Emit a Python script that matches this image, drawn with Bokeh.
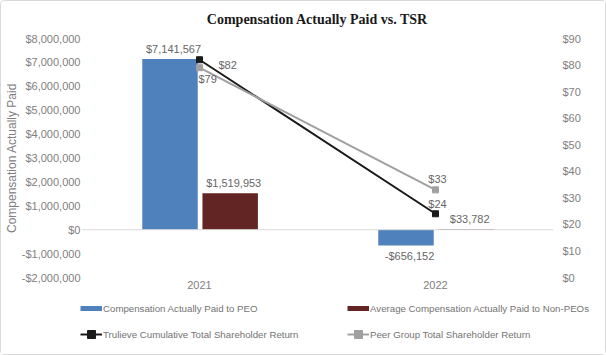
import math
from bokeh.plotting import figure
from bokeh.layouts import column
from bokeh.models import (FactorRange, Range1d, LinearAxis, FixedTicker, CustomJSTickFormatter,
                          ColumnDataSource, LabelSet, Label, Legend, LegendItem, Span)
from bokeh.core.properties import value
from bokeh.transform import dodge
from bokeh.embed import file_html
from bokeh.resources import INLINE

# ---- data ----
years = ["2021", "2022"]
peo_cap = [7141567, -656152]
non_peo_cap = [1519953, 33782]
trulieve_tsr = [82, 24]
peer_tsr = [79, 33]
money_ticks = [-2000000, -1000000, 0, 1000000, 2000000, 3000000, 4000000, 5000000, 6000000, 7000000, 8000000]
tsr_ticks = [0, 10, 20, 30, 40, 50, 60, 70, 80, 90]
series_names = ["Compensation Actually Paid to PEO",
                "Average Compensation Actually Paid to Non-PEOs",
                "Trulieve Cumulative Total Shareholder Return",
                "Peer Group Total Shareholder Return"]

def money(v):
    return ("-" if v < 0 else "") + "${:,}".format(abs(v))

FONT = "Liberation Sans"
TICK_COL = "#808080"
LBL_COL = "#666666"
C_PEO, C_NPEO, C_TRU, C_PEER = "#4F81BD", "#632523", "#1a1a1a", "#a0a0a0"

src = ColumnDataSource(dict(x=years, peo=peo_cap, npeo=non_peo_cap, tru=trulieve_tsr, peer=peer_tsr,
                            npeo_lbl=[money(v) for v in non_peo_cap]))

p = figure(x_range=FactorRange(*years, range_padding=0),
           y_range=Range1d(money_ticks[0], money_ticks[-1]),
           width=604, height=296, output_backend="svg", toolbar_location=None,
           min_border_left=79, min_border_right=52, min_border_top=37, min_border_bottom=20)
p.frame_align = False
p.outline_line_color = None
p.xgrid.visible = False
p.ygrid.visible = False
p.extra_y_ranges = {"tsr": Range1d(tsr_ticks[0], tsr_ticks[-1])}

p.title.text = "Compensation Actually Paid vs. TSR"
p.title.align = "center"
p.title.vertical_align = "top"
p.title.text_font = "Liberation Serif"
p.title.text_font_size = "14px"
p.title.text_font_style = "bold"
p.title.text_color = "#1a1a1a"
p.title.standoff = 20

# axes
ax = p.yaxis[0]
ax.ticker = FixedTicker(ticks=money_ticks)
ax.formatter = CustomJSTickFormatter(code="return (tick<0?'-':'') + '$' + Math.abs(tick).toLocaleString('en-US');")
ax.axis_label = "Compensation Actually Paid"
ax.axis_line_color = None
ax.major_tick_line_color = None
ax.minor_tick_line_color = None
ax.major_tick_out = 0
ax.major_tick_in = 0
ax.major_label_standoff = 1
ax.axis_label_standoff = 0
ax.major_label_text_font = FONT
ax.major_label_text_font_size = "11px"
ax.major_label_text_color = TICK_COL
ax.axis_label_text_font = FONT
ax.axis_label_text_font_size = "12px"
ax.axis_label_text_font_style = "normal"
ax.axis_label_text_color = TICK_COL

rax = LinearAxis(y_range_name="tsr", ticker=FixedTicker(ticks=tsr_ticks),
                 formatter=CustomJSTickFormatter(code="return '$' + tick;"))
rax.axis_line_color = None
rax.major_tick_line_color = None
rax.minor_tick_line_color = None
rax.major_tick_out = 0
rax.major_tick_in = 0
rax.major_label_standoff = 9
rax.major_label_text_font = FONT
rax.major_label_text_font_size = "11px"
rax.major_label_text_color = TICK_COL
p.add_layout(rax, "right")

# right axis title, reading bottom-to-top as in the original
p.add_layout(Label(x=2, y=45, y_range_name="tsr", x_offset=40, text="TSR", angle=math.pi / 2,
                   text_align="center", text_baseline="middle", text_font=FONT,
                   text_font_size="12px", text_color=TICK_COL))

xa = p.xaxis[0]
xa.axis_line_color = None
xa.major_tick_line_color = None
xa.minor_tick_line_color = None
xa.major_tick_out = 0
xa.major_label_standoff = 3
xa.major_label_text_font = FONT
xa.major_label_text_font_size = "11px"
xa.major_label_text_color = TICK_COL

p.add_layout(Span(location=0, dimension="width", line_color="#d9d9d9", line_width=1))

# bars
BW = 0.235
p.vbar(x=dodge("x", -0.125, range=p.x_range), top="peo", bottom=0, width=BW, source=src,
       fill_color=C_PEO, line_color=None)
p.vbar(x=dodge("x", 0.13, range=p.x_range), top="npeo", bottom=0, width=BW, source=src,
       fill_color=C_NPEO, line_color=None)

# lines
p.line(x="x", y="tru", source=src, y_range_name="tsr", line_color=C_TRU, line_width=2)
p.scatter(x="x", y="tru", source=src, y_range_name="tsr", marker="square", size=6,
          fill_color=C_TRU, line_color=C_TRU)
p.line(x="x", y="peer", source=src, y_range_name="tsr", line_color=C_PEER, line_width=2)
p.scatter(x="x", y="peer", source=src, y_range_name="tsr", marker="square", size=6,
          fill_color=C_PEER, line_color=C_PEER)

# data labels
lbl_kw = dict(text_font=value(FONT), text_font_size="11px", text_color=LBL_COL)
peo_src = ColumnDataSource(dict(x=years, y=peo_cap, t=[money(v) for v in peo_cap],
                                yo=[4, -5], base=["bottom", "top"]))
p.add_layout(LabelSet(x=dodge("x", -0.11, range=p.x_range), y="y", text="t", source=peo_src,
                      y_offset="yo", text_baseline="base", text_align="center", **lbl_kw))
p.add_layout(LabelSet(x=dodge("x", 0.145, range=p.x_range), y="npeo", text="npeo_lbl", source=src,
                      y_offset=4, text_baseline="bottom", text_align="center", **lbl_kw))
tru_src = ColumnDataSource(dict(x=years, y=trulieve_tsr, t=["$%d" % v for v in trulieve_tsr],
                                xo=[19, 2], yo=[-5, 10], al=["left", "center"]))
p.add_layout(LabelSet(x="x", y="y", text="t", source=tru_src, y_range_name="tsr",
                      x_offset="xo", y_offset="yo", text_align="al", text_baseline="middle", **lbl_kw))
peer_src = ColumnDataSource(dict(x=years, y=peer_tsr, t=["$%d" % v for v in peer_tsr],
                                 xo=[-1, 2], yo=[-11, 11], al=["left", "center"]))
p.add_layout(LabelSet(x="x", y="y", text="t", source=peer_src, y_range_name="tsr",
                      x_offset="xo", y_offset="yo", text_align="al", text_baseline="middle", **lbl_kw))

# ---- legend strip (separate figure under the chart) ----
lg = figure(width=604, height=57, output_backend="svg", toolbar_location=None,
            x_range=Range1d(0, 1), y_range=Range1d(0, 1), x_axis_type=None, y_axis_type=None,
            min_border=0)
lg.frame_align = False
lg.outline_line_color = None
lg.xgrid.visible = False
lg.ygrid.visible = False
nan_src = ColumnDataSource(dict(x=[float("nan")], y=[float("nan")]))
sw_peo = lg.line(x="x", y="y", source=nan_src, line_color=C_PEO, line_width=5)
sw_npeo = lg.line(x="x", y="y", source=nan_src, line_color=C_NPEO, line_width=5)
sw_tru_l = lg.line(x="x", y="y", source=nan_src, line_color=C_TRU, line_width=2)
sw_tru_s = lg.scatter(x="x", y="y", source=nan_src, marker="square", size=6, fill_color=C_TRU, line_color=C_TRU)
sw_peer_l = lg.line(x="x", y="y", source=nan_src, line_color=C_PEER, line_width=2)
sw_peer_s = lg.scatter(x="x", y="y", source=nan_src, marker="square", size=6, fill_color=C_PEER, line_color=C_PEER)

# items ordered so that the two-column grid reads row by row like the original
legend = Legend(items=[
    LegendItem(label=series_names[0], renderers=[sw_peo]),
    LegendItem(label=series_names[2], renderers=[sw_tru_l, sw_tru_s]),
    LegendItem(label=series_names[1], renderers=[sw_npeo]),
    LegendItem(label=series_names[3], renderers=[sw_peer_l, sw_peer_s]),
], ncols=2, location=(79, 10))
legend.padding = 0
legend.margin = 0
legend.spacing = 6
legend.glyph_width = 22
legend.glyph_height = 20
legend.label_height = 20
legend.label_width = 238
legend.label_standoff = 1
legend.border_line_color = None
legend.background_fill_alpha = 0
legend.label_text_font = FONT
legend.label_text_font_size = "9.7px"
legend.label_text_color = "#737373"
lg.add_layout(legend, "center")

layout = column(p, lg, spacing=0)
layout.styles = {"border": "1px solid #d9d9d9", "border-radius": "4px"}

open("out.html", "w").write(file_html(layout, INLINE))
